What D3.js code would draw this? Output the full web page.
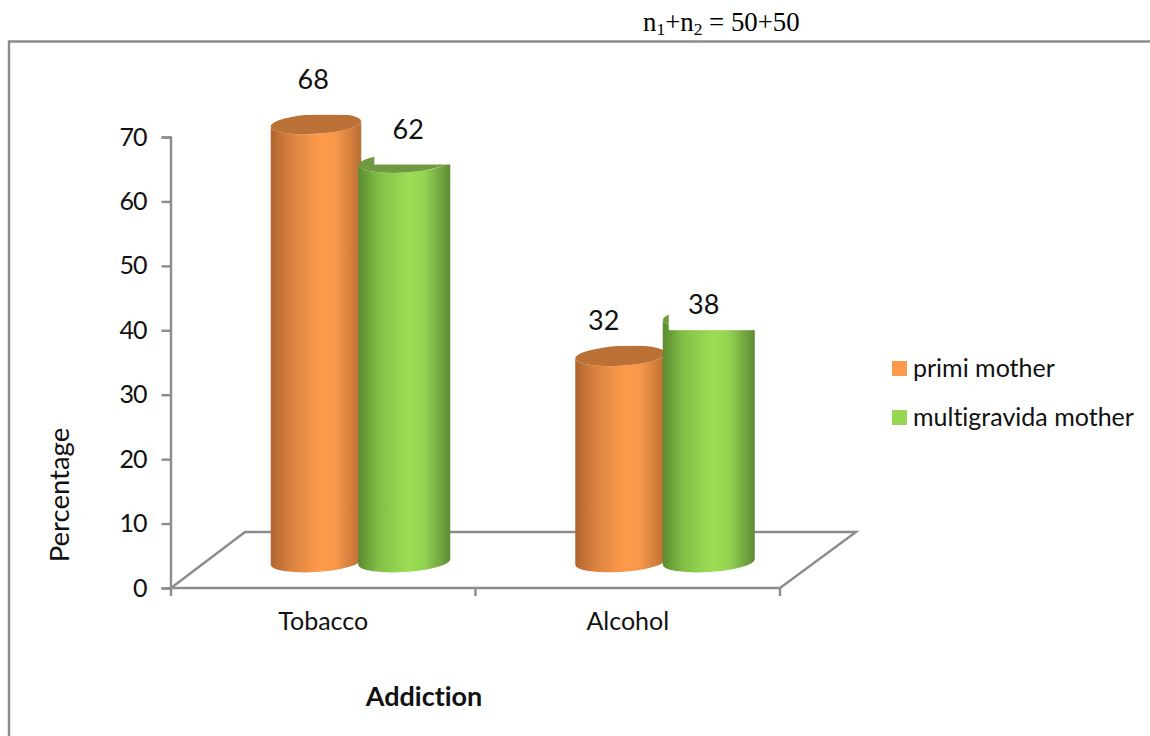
<!DOCTYPE html>
<html>
<head>
<meta charset="utf-8">
<script src="https://cdn.jsdelivr.net/npm/d3@7/dist/d3.min.js"></script>
<style>
html,body{margin:0;padding:0;background:#fff;}
svg{display:block;}
text{font-family:Lato,"Open Sans",sans-serif;fill:#111;font-variant-ligatures:none;}
</style>
</head>
<body>
<svg id="chart" width="1150" height="736"></svg>
<script>
// Addiction percentages for the two groups of mothers
const categories = ["Tobacco", "Alcohol"];
const seriesNames = ["primi mother", "multigravida mother"];
const primiValues = [68, 32];
const multigravidaValues = [62, 38];
const yTicks = [0, 10, 20, 30, 40, 50, 60, 70];

const seriesValues = [primiValues, multigravidaValues];

// Layout
const svg = d3.select("#chart");
const x = d3.scaleBand().domain(categories).range([171, 780]);
const y = d3.scaleLinear().domain([0, 70]).range([588, 137]);
const floorDepth = {dx: 74, dy: -56};
const barShift = {dx: 36, dy: -26};
const barGeom = [{from: -88.5, w: 90.5}, {from: -1, w: 92}];
const ry = 10, tiltDeg = -3.5;

const gridGrey = "#8c8c8c";
const lineWidth = 2.4;
const palettes = [
  {top: "#bb7035", stops: ["#b0652c", "#d98240", "#ff9c4b", "#f8974a", "#b96e34"], swatch: "#fd9a4b"},
  {top: "#6f9a3f", stops: ["#5a8a2f", "#82bf46", "#9bde55", "#93d351", "#5f8a35"], swatch: "#97d652"}
];

// Horizontal shading that gives each bar its cylinder look
const defs = svg.append("defs");
palettes.forEach((p, i) => {
  const g = defs.append("linearGradient").attr("id", "cyl" + i);
  [0, 0.22, 0.55, 0.72, 1].forEach((o, k) =>
    g.append("stop").attr("offset", o).attr("stop-color", p.stops[k]));
});

// Outer frame of the chart area
svg.append("path")
  .attr("d", "M9,736V41.5H1150")
  .attr("fill", "none").attr("stroke", gridGrey).attr("stroke-width", lineWidth);

// Sample size line above the frame
const sizeLine = svg.append("text")
  .attr("x", 643).attr("y", 31)
  .style("font-family", "'Liberation Serif',serif")
  .style("font-size", "26.8px").style("fill", "#000");
[["n"], ["1", 1], ["+n"], ["2", 1], [" = 50+50"]].forEach(([t, sub]) => {
  const span = sizeLine.append("tspan").text(t)
    .attr("dy", sub ? 4 : (t === "n" ? 0 : -4));
  if (sub) span.style("font-size", "17.5px");
});

// Floor parallelogram
const floorLeft = x.range()[0], floorRight = x.range()[1];
svg.append("path")
  .attr("d", `M${floorLeft},${y(0)}L${floorLeft + floorDepth.dx},${y(0) + floorDepth.dy}` +
             `H${floorRight + floorDepth.dx + 2}L${floorRight},${y(0)}`)
  .attr("fill", "none").attr("stroke", gridGrey).attr("stroke-width", lineWidth);

// Axes
const yAxis = d3.axisLeft(y).tickValues(yTicks).tickSize(9).tickPadding(15);
const yG = svg.append("g").attr("transform", "translate(170.5,0)").call(yAxis);
const xAxis = d3.axisBottom(x).tickSize(8).tickPadding(16).tickSizeOuter(0);
const xG = svg.append("g").attr("transform", `translate(0,${y(0)})`).call(xAxis);
xG.selectAll(".tick line").remove();
x.domain().concat([null]).forEach(c => {
  const px = c === null ? x.range()[1] : x(c);
  xG.append("line").attr("x1", px).attr("x2", px).attr("y1", 0).attr("y2", 8)
    .attr("stroke", gridGrey).attr("stroke-width", lineWidth);
});
[yG, xG].forEach(g => {
  g.selectAll(".domain").attr("stroke", gridGrey).attr("stroke-width", lineWidth);
  g.selectAll(".tick line").attr("stroke", gridGrey).attr("stroke-width", lineWidth);
  g.selectAll("text").style("font-family", "Lato,sans-serif").style("fill", "#111");
});
yG.selectAll("text").style("font-size", "25px").style("letter-spacing", "-1px");
xG.selectAll("text").style("font-size", "25px");
xG.select(".domain").attr("d", `M${x.range()[0]},0H${x.range()[1]}`);

// Cylinders
const tilt = tiltDeg * Math.PI / 180;
categories.forEach((cat, ci) => {
  seriesValues.forEach((vals, si) => {
    const centre = x(cat) + x.bandwidth() / 2 + barShift.dx;
    const left = centre + barGeom[si].from, w = barGeom[si].w;
    const rx = w / 2;
    const cx = left + rx;
    const topY = y(vals[ci]) + barShift.dy;
    const botY = y(0) + barShift.dy;
    const d = rx * Math.sin(-tilt);
    const g = svg.append("g");
    g.append("path")
      .attr("d", `M${left},${topY + d}L${left},${botY + d}` +
                 `A${rx},${ry},${tiltDeg},0,0,${left + w},${botY - d}` +
                 `L${left + w},${topY - d}` +
                 `A${rx},${ry},${tiltDeg},0,1,${left},${topY + d}Z`)
      .attr("fill", `url(#cyl${si})`);
    g.append("ellipse")
      .attr("cx", cx).attr("cy", topY).attr("rx", rx).attr("ry", ry)
      .attr("transform", `rotate(${tiltDeg},${cx},${topY})`)
      .attr("fill", palettes[si].top);
  });
});

// Value labels sit on white backing boxes that mask the cylinder tops.
// Boxes are [x offset, y offset, width, height] from the bar pair centre and bar top.
const labelLayout = [
  [{tx: -46, ty: -45, box: [-72, -60, 76, 51]}, {tx: 49, ty: -34, box: [15, -70, 80, 72]}],
  [{tx: -60, ty: -36, box: [-100, -60, 84, 50]},  {tx: 40, ty: -14, box: [5, -45, 90, 58]}]
];
categories.forEach((cat, ci) => {
  seriesValues.forEach((vals, si) => {
    const centre = x(cat) + x.bandwidth() / 2 + barShift.dx;
    const topY = y(vals[ci]) + barShift.dy;
    const a = labelLayout[ci][si];
    svg.append("rect")
      .attr("x", centre + a.box[0]).attr("y", topY + a.box[1])
      .attr("width", a.box[2]).attr("height", a.box[3])
      .attr("fill", "#fff");
  });
});
categories.forEach((cat, ci) => {
  seriesValues.forEach((vals, si) => {
    const centre = x(cat) + x.bandwidth() / 2 + barShift.dx;
    const topY = y(vals[ci]) + barShift.dy;
    const a = labelLayout[ci][si];
    svg.append("text")
      .attr("x", centre + a.tx).attr("y", topY + a.ty)
      .attr("text-anchor", "middle").attr("dominant-baseline", "central")
      .style("font-size", "27px").text(vals[ci]);
  });
});

// Axis titles
svg.append("text")
  .attr("transform", "translate(58,495) rotate(-90)")
  .attr("text-anchor", "middle").attr("dominant-baseline", "central")
  .style("font-size", "27.5px").text("Percentage");
svg.append("text")
  .attr("x", 424).attr("y", 695)
  .attr("text-anchor", "middle").attr("dominant-baseline", "central")
  .style("font-size", "27px").style("font-weight", "700").text("Addiction");

// Legend
const legendRows = d3.scalePoint().domain(seriesNames).range([368.5, 417.5]);
seriesNames.forEach((name, i) => {
  const cy = legendRows(name);
  svg.append("rect").attr("x", 892).attr("y", cy - 7.5).attr("width", 15).attr("height", 15)
    .attr("fill", palettes[i].swatch);
  svg.append("text").attr("x", 913).attr("y", cy - 2)
    .attr("dominant-baseline", "central")
    .style("font-size", "25px").text(name);
});
</script>
</body>
</html>
